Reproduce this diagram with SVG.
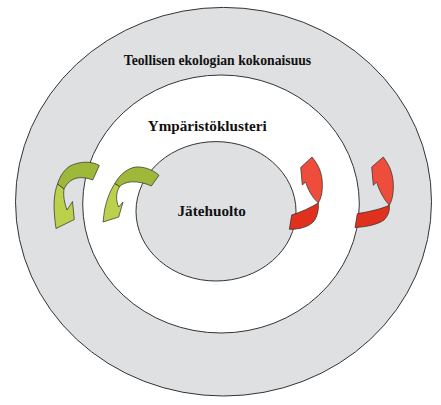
<svg xmlns="http://www.w3.org/2000/svg" width="441" height="405" viewBox="0 0 441 405">
<style>
.ring{stroke:#333;stroke-width:1}
.gray{fill:#dfe0e2}
.white{fill:#fff}
.lbl{font-weight:bold;fill:#111;text-anchor:middle}
.arr{stroke:#2a2a2a;stroke-width:0.7;stroke-linejoin:round}
.gd{fill:#9eb83a}
.gl{fill:#bbd14c}
.rd{fill:#e0311f}
.rl{fill:#ef4d3c}
</style>
<rect width="441" height="405" fill="#fff"/>
<g id="outer">
<ellipse class="ring gray" cx="223.5" cy="201.7" rx="208" ry="194.3"/>
<text class="lbl" x="217.5" y="65" font-size="13.7" font-family="'Liberation Serif', 'Times New Roman', serif">Teollisen ekologian kokonaisuus</text>
</g>
<g id="middle">
<ellipse class="ring white" cx="221" cy="204" rx="138.3" ry="129"/>
<text class="lbl" x="207.2" y="130.7" font-size="15.2" font-family="'Liberation Serif', 'Times New Roman', serif">Ympäristöklusteri</text>
</g>
<g id="inner">
<ellipse class="ring gray" cx="216" cy="211.3" rx="80" ry="69.7"/>
<text class="lbl" x="211.7" y="216" font-size="15.2" font-family="'Liberation Serif', 'Times New Roman', serif">Jätehuolto</text>
</g>
<g id="connectors">
<g id="green1">
<path class="arr gd" d="M99.3,165.5 C92,161 80,161 70,166 C64,170 60,176 57.5,184 L64,189 C67,183 71,179.5 77,178 C82,177 88,178 92.7,180 Z"/>
<path class="arr gl" d="M57.5,184 C54,193 53.5,205 54.5,215 C55,221 55.5,225 56,228.5 L74.3,219.5 L72.5,201.5 L67,210 C64.5,203 63,196 64,189 Z"/>
</g>
<g id="green2">
<path class="arr gd" d="M159,175.3 C152,169 143,166.5 136,167 C128,168 120,174 114.7,183.7 L119.7,186.5 C122,184 126,182.5 131,181.8 C139,181.5 146,183.5 151.3,186 Z"/>
<path class="arr gl" d="M114.7,183.7 C110,191 107,199 105,208 C104,213 103.5,218 103,222 L118.7,217 L123,202 L118.7,207 C116,201 115.5,193 119.7,186.5 Z"/>
</g>
<g id="red1">
<path class="arr rd" d="M291.7,215 L289.3,229.3 C299,229.5 309,227 314,221 C317,217 319,210 318.3,203 C310,208 301,212 291.7,215 Z"/>
<path class="arr rl" d="M318.3,203 C322,197 323,188 322,179 C321,171 318,165 315,161 L312,157 L300.7,167.5 L302.3,185 L305.7,182 C308,190 312,197 318.3,203 Z"/>
</g>
<g id="red2">
<path class="arr rd" d="M357.3,213.7 L355,227.5 C365,227 377,225 384,220 C388,216 390,211 389.3,205.3 C381,209 370,211.5 357.3,213.7 Z"/>
<path class="arr rl" d="M389.3,205.3 C393,199 394,189 393,180 C392,172 389,165 386,161 L383.3,157 L371.7,167 L373.3,185.3 L376.7,182 C379,190 383,198 389.3,205.3 Z"/>
</g>
</g>
</svg>
